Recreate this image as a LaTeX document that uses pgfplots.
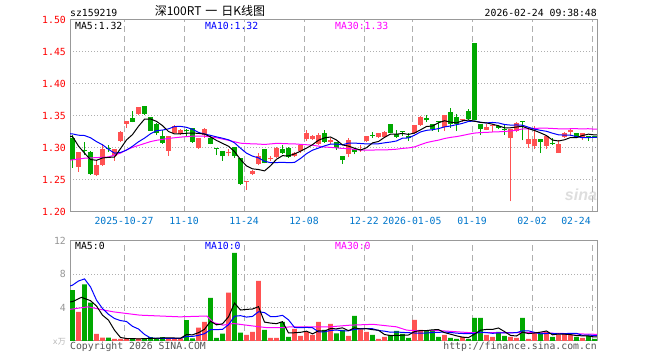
\documentclass[border=0pt]{standalone}
\usepackage{fontspec}
\usepackage{pgfplots}
\usepackage{pgfplotstable}
\pgfplotsset{compat=1.18}
\newfontfamily\mono{DejaVu Sans Mono}
\newfontfamily\cjk{Noto Sans CJK SC}
\newfontfamily\sinafont{Liberation Sans}
\definecolor{upred}{RGB}{255,82,82}
\definecolor{dngreen}{RGB}{0,168,0}
\definecolor{maten}{RGB}{0,0,255}
\definecolor{mathirty}{RGB}{255,0,255}
\definecolor{bord}{RGB}{153,153,153}
\definecolor{gridc}{RGB}{175,175,175}
\definecolor{tickblue}{RGB}{0,119,204}
\definecolor{volgray}{RGB}{150,150,150}
\definecolor{copyc}{RGB}{85,85,85}
\definecolor{wmark}{RGB}{222,222,222}
\newcommand{\mf}{\fontsize{9.8bp}{10bp}\selectfont\mono}

\pgfplotstableread{
i o h l c v
1 1.271 1.294 1.263 1.294 3.5
4 1.258 1.282 1.256 1.274 0.84
5 1.273 1.306 1.272 1.299 0.4
7 1.287 1.299 1.280 1.298 0.24
8 1.311 1.327 1.310 1.325 0.24
9 1.338 1.342 1.332 1.342 0.24
11 1.353 1.364 1.351 1.364 0.3
16 1.296 1.318 1.288 1.318 0.3
17 1.323 1.3355 1.323 1.334 0.3
18 1.322 1.329 1.321 1.328 0.3
21 1.300 1.315 1.299 1.315 1.6
22 1.320 1.331 1.316 1.329 2.28
26 1.2915 1.298 1.287 1.293 5.8
29 1.247 1.249 1.235 1.249 0.72
30 1.259 1.266 1.258 1.264 1.1
31 1.275 1.292 1.273 1.288 7.22
33 1.2825 1.288 1.279 1.284 0.38
34 1.2855 1.301 1.284 1.300 0.38
37 1.2875 1.294 1.2855 1.292 1.44
38 1.2955 1.306 1.292 1.305 0.6
39 1.3135 1.328 1.3115 1.324 1.08
40 1.314 1.320 1.313 1.319 0.72
41 1.306 1.323 1.305 1.321 2.28
43 1.310 1.315 1.307 1.312 2.04
46 1.2905 1.315 1.2855 1.312 0.6
48 1.2965 1.3045 1.2945 1.298 1.4
49 1.3115 1.318 1.309 1.318 1.08
51 1.3165 1.324 1.316 1.323 0.24
52 1.3175 1.3265 1.316 1.325 0.48
57 1.324 1.336 1.3225 1.336 2.52
58 1.336 1.350 1.3345 1.349 1.32
62 1.333 1.3515 1.3265 1.3515 0.72
65 1.3435 1.346 1.3405 1.346 0.48
69 1.3285 1.338 1.3275 1.333 0.72
70 1.3345 1.338 1.3255 1.336 0.48
73 1.3155 1.329 1.2165 1.329 0.48
74 1.326 1.340 1.3245 1.339 0.36
76 1.306 1.331 1.300 1.314 0.24
77 1.3025 1.335 1.2985 1.314 0.96
79 1.3035 1.318 1.2985 1.318 1.08
81 1.292 1.313 1.292 1.307 0.72
82 1.317 1.3245 1.3155 1.323 0.84
83 1.3245 1.3315 1.318 1.328 0.72
85 1.3155 1.3235 1.313 1.323 0.36
}\upT

\pgfplotstableread{
i o h l c v
0 1.315 1.320 1.269 1.281 6.1
2 1.2975 1.309 1.289 1.296 6.8
3 1.293 1.295 1.258 1.259 4.6
6 1.3005 1.305 1.294 1.299 0.4
10 1.347 1.358 1.340 1.341 0.3
12 1.366 1.366 1.352 1.353 0.3
13 1.348 1.349 1.327 1.327 0.45
14 1.338 1.339 1.320 1.323 0.3
15 1.319 1.328 1.307 1.308 0.45
19 1.3285 1.329 1.318 1.327 2.5
20 1.331 1.332 1.308 1.310 0.3
23 1.315 1.320 1.3055 1.306 5.16
24 1.3005 1.3005 1.289 1.299 0.36
25 1.295 1.296 1.280 1.287 0.88
27 1.301 1.302 1.285 1.287 10.56
28 1.284 1.284 1.242 1.244 1.0
32 1.298 1.299 1.276 1.276 1.32
35 1.298 1.304 1.291 1.292 2.28
36 1.2995 1.301 1.284 1.286 0.48
42 1.323 1.328 1.308 1.310 1.32
44 1.309 1.310 1.297 1.300 0.92
45 1.2875 1.2875 1.275 1.281 1.32
47 1.298 1.2995 1.290 1.293 3.0
50 1.3205 1.3245 1.316 1.319 0.72
53 1.337 1.338 1.323 1.324 0.72
54 1.3225 1.328 1.316 1.317 1.2
55 1.3265 1.3265 1.319 1.325 0.84
56 1.319 1.324 1.311 1.315 0.36
59 1.3475 1.352 1.3405 1.343 1.2
60 1.338 1.338 1.3265 1.329 1.32
61 1.342 1.342 1.3255 1.340 0.48
63 1.357 1.362 1.332 1.338 0.36
64 1.349 1.3535 1.3265 1.337 0.24
66 1.358 1.3605 1.343 1.345 0.24
67 1.4645 1.4645 1.343 1.343 2.76
68 1.338 1.338 1.320 1.329 2.76
71 1.3345 1.336 1.329 1.332 1.08
72 1.330 1.3365 1.321 1.328 0.6
75 1.3425 1.3425 1.312 1.341 2.76
78 1.314 1.314 1.292 1.310 0.96
80 1.308 1.3155 1.305 1.306 0.48
84 1.3235 1.3235 1.3155 1.317 0.48
86 1.3185 1.319 1.3115 1.317 0.6
87 1.3185 1.319 1.316 1.317 0.24
}\downT

\pgfplotstableread{
i m
-0.4 1.3181
0 1.318
1 1.303
2 1.292
3 1.282
4 1.2808
5 1.2844
6 1.2854
7 1.2858
8 1.299
9 1.3126
10 1.321
11 1.334
12 1.345
13 1.3454
14 1.3416
15 1.335
16 1.3258
17 1.322
18 1.3222
19 1.323
20 1.3234
21 1.3228
22 1.3218
23 1.3174
24 1.3118
25 1.3072
26 1.3028
27 1.2944
28 1.282
29 1.272
30 1.2674
31 1.2664
32 1.2642
33 1.2722
34 1.2824
35 1.288
36 1.2876
37 1.2908
38 1.295
39 1.2998
40 1.3052
41 1.3122
42 1.3158
43 1.3172
44 1.3124
45 1.3048
46 1.303
47 1.2996
48 1.2968
49 1.3004
50 1.308
51 1.3102
52 1.3166
53 1.3218
54 1.3216
55 1.3228
56 1.3212
57 1.3234
58 1.3284
59 1.3336
60 1.3344
61 1.3394
62 1.3426
63 1.3404
64 1.3392
65 1.3426
66 1.3436
67 1.3418
68 1.340
69 1.3392
70 1.3372
71 1.3346
72 1.3316
73 1.3316
74 1.3328
75 1.3338
76 1.3302
77 1.3274
78 1.3236
79 1.3194
80 1.3124
81 1.311
82 1.3128
83 1.3164
84 1.3162
85 1.3196
86 1.3216
87 1.3204
87.4 1.3204
}\maFive

\pgfplotstableread{
i m
-0.4 1.3223
0 1.322
1 1.320
2 1.3195
3 1.316
4 1.310
5 1.305
6 1.298
7 1.292
8 1.293
9 1.2967
10 1.3027
11 1.3097
12 1.3154
13 1.3222
14 1.3271
15 1.328
16 1.3299
17 1.3335
18 1.3338
19 1.3323
20 1.3292
21 1.3243
22 1.3219
23 1.3198
24 1.3174
25 1.3153
26 1.3128
27 1.3081
28 1.2997
29 1.2919
30 1.2873
31 1.2846
32 1.2793
33 1.2771
34 1.2772
35 1.2777
36 1.277
37 1.2775
38 1.2836
39 1.2911
40 1.2966
41 1.2999
42 1.3033
43 1.3061
44 1.3061
45 1.305
46 1.3076
47 1.3077
48 1.307
49 1.3064
50 1.3064
51 1.3066
52 1.3081
53 1.3093
54 1.311
55 1.3154
56 1.3157
57 1.32
58 1.3251
59 1.3276
60 1.3286
61 1.3303
62 1.333
63 1.3344
64 1.3364
65 1.3385
66 1.3415
67 1.3422
68 1.3402
69 1.3392
70 1.3399
71 1.3391
72 1.3367
73 1.3358
74 1.336
75 1.3355
76 1.3324
77 1.3295
78 1.3276
79 1.3261
80 1.3231
81 1.3206
82 1.3201
83 1.32
84 1.3178
85 1.316
86 1.3163
87 1.3166
87.4 1.3166
}\maTen

\pgfplotstableread{
i m
-0.4 1.281
2 1.284
4 1.285
6 1.286
8 1.292
9 1.297
10 1.301
11 1.304
12 1.307
13 1.310
14 1.312
16 1.315
18 1.317
20 1.3185
22 1.3185
24 1.316
26 1.312
28 1.3075
29 1.307
30 1.3064
31 1.3062
32 1.3055
33 1.3064
34 1.3072
35 1.307
36 1.3066
37 1.3064
38 1.3057
39 1.3051
40 1.3044
41 1.3029
42 1.3015
43 1.301
44 1.3002
45 1.2993
46 1.2991
47 1.2978
48 1.2968
49 1.2965
50 1.2968
51 1.297
52 1.2969
53 1.2975
54 1.2981
55 1.2994
56 1.3001
57 1.3017
58 1.3052
59 1.3084
60 1.3105
61 1.3123
62 1.3148
63 1.3166
64 1.3178
65 1.3196
66 1.3216
67 1.3233
68 1.3241
69 1.3244
70 1.325
71 1.3253
72 1.3259
73 1.3265
74 1.3278
75 1.3298
76 1.3299
77 1.3306
78 1.331
79 1.331
80 1.3305
81 1.330
82 1.3299
83 1.3301
84 1.3301
85 1.330
86 1.3301
87 1.3294
87.4 1.3294
}\maThirty

\pgfplotstableread{
i m
-0.4 4.7
0 4.72
1.5 5.24
3 4.84
4 4.2
5 3.1
6 2.5
7 1.3
8 0.42
9 0.30
10 0.28
11 0.26
12 0.28
13 0.32
14 0.33
15 0.36
16 0.36
17 0.36
18 0.33
19 0.77
20 0.74
21 1.0
22 1.40
23 2.37
24 1.94
25 2.06
26 2.90
27 4.55
28 3.72
29 3.79
30 3.84
31 4.12
32 2.27
33 2.15
34 2.08
35 2.32
36 0.97
37 0.99
38 1.04
39 1.18
40 0.86
41 1.22
42 1.2
43 1.49
44 1.46
45 1.58
46 1.24
47 1.58
48 1.45
49 1.48
50 1.36
51 1.29
52 0.78
53 0.65
54 0.67
55 0.70
56 0.72
57 1.13
58 1.25
59 1.25
60 1.34
61 1.37
62 1.01
63 0.82
64 0.62
65 0.46
66 0.41
67 0.82
68 1.30
69 1.39
70 1.39
71 1.56
72 1.13
73 0.67
74 0.60
75 1.06
76 0.89
77 0.96
78 1.06
79 1.2
80 0.74
81 0.84
82 0.82
83 0.77
84 0.65
85 0.62
86 0.60
87 0.48
87.4 0.48
}\vmaFive

\pgfplotstableread{
i m
-0.4 6.6
0 6.7
1 7.2
2 7.45
3 6.5
4 4.9
5 3.9
6 3.2
7 2.7
8 2.45
9 2.34
10 1.76
11 1.44
12 0.79
13 0.37
14 0.32
15 0.32
16 0.31
17 0.32
18 0.32
19 0.55
20 0.55
21 0.68
22 0.88
23 1.35
24 1.36
25 1.40
26 1.95
27 2.97
28 3.04
29 2.87
30 2.95
31 3.51
32 3.41
33 2.93
34 2.94
35 3.08
36 2.54
37 1.63
38 1.59
39 1.63
40 1.59
41 1.10
42 1.10
43 1.26
44 1.32
45 1.22
46 1.23
47 1.39
48 1.47
49 1.47
50 1.47
51 1.26
52 1.18
53 1.05
54 1.08
55 1.03
56 1.0
57 0.96
58 0.95
59 0.96
60 1.02
61 1.04
62 1.07
63 1.03
64 0.94
65 0.90
66 0.89
67 0.91
68 1.06
69 1.01
70 0.92
71 0.98
72 0.97
73 0.98
74 1.0
75 1.22
76 1.22
77 1.04
78 0.86
79 0.9
80 0.9
81 0.86
82 0.89
83 0.91
84 0.92
85 0.68
86 0.72
87 0.65
87.4 0.65
}\vmaTen

\pgfplotstableread{
i m
-0.4 3.8
2.6 4.1
4.6 3.8
6.8 3.5
11.25 3.1
17.9 2.9
22.4 3.0
23.5 2.2
25.1 1.9
26.8 2.1
30.1 1.8
32.4 1.6
35.1 1.6
36.25 1.7
42.9 1.7
46.25 1.9
50.1 2.0
54 1.7
55.7 1.3
57.4 1.24
61.25 1.24
66.25 1.0
76.25 1.0
87.4 0.8
}\vmaThirty

\pgfplotsset{
  klinebase/.style={
    scale only axis, width=527bp,
    xmin=-0.41667, xmax=87.41667,
    axis line style={draw=bord, line width=1bp},
    major tick length=0pt,
    xtick={8.58333,18.58333,28.58333,38.58333,48.58333,56.58333,66.58333,76.58333,86.58333},
    xmajorgrids, ymajorgrids,
    x grid style={draw=gridc, line width=1bp, dash pattern=on 6bp off 4bp},
    y grid style={draw=gridc, line width=1bp, dash pattern=on 1bp off 2bp},
    yticklabel style={font=\mf, anchor=east, inner sep=0pt, xshift=-4bp},
    xticklabel style={font=\mf, text=tickblue, anchor=north, inner sep=0pt, yshift=-5bp},
  },
  wick/.style={draw=none, mark=none, error bars/.cd, y dir=plus, y explicit, error mark=none,
    error bar style={draw=#1, solid, line width=1bp}},
  body/.style={draw=none, mark=none, error bars/.cd, y dir=plus, y explicit, error mark=none,
    error bar style={draw=#1, solid, line width=4.6bp}},
}

\begin{document}
\begin{tikzpicture}
\useasboundingbox (0,0) rectangle (660bp,360bp);
\fill[white] (0,0) rectangle (660bp,360bp);
\node[anchor=center, inner sep=0pt, text=wmark] at (581bp,165bp) {\fontsize{16bp}{16bp}\selectfont\sinafont\bfseries\itshape sina};

% price panel
\begin{axis}[klinebase,
  at={(70bp,148bp)}, anchor=south west, height=192bp,
  ymin=1.20, ymax=1.50,
  ytick={1.20,1.25,1.30,1.35,1.40,1.45,1.50},
  yticklabels={1.20,1.25,1.30,1.35,1.40,1.45,1.50},
  yticklabel style={text=red},
  xticklabels={2025-10-27,11-10,11-24,12-08,12-22,2026-01-05,01-19,02-02,{}},
]
\addplot[wick=upred] table[x=i, y=l, y error expr=\thisrow{h}-\thisrow{l}] {\upT};
\addplot[wick=dngreen] table[x=i, y=l, y error expr=\thisrow{h}-\thisrow{l}] {\downT};
\addplot[body=upred] table[x=i, y=o, y error expr=\thisrow{c}-\thisrow{o}] {\upT};
\addplot[body=dngreen] table[x=i, y=c, y error expr=\thisrow{o}-\thisrow{c}] {\downT};
\addplot[mathirty, line width=1bp, mark=none] table[x=i, y=m] {\maThirty};
\addplot[maten, line width=1bp, mark=none] table[x=i, y=m] {\maTen};
\addplot[black, line width=1bp, mark=none] table[x=i, y=m] {\maFive};
\end{axis}

% volume panel
\begin{axis}[klinebase,
  at={(70bp,19bp)}, anchor=south west, height=100bp,
  ymin=0, ymax=12,
  ytick={4,8,12}, yticklabels={4,8,12},
  yticklabel style={text=volgray},
  xticklabels={},
]
\addplot[ybar, bar width=4.6bp, bar shift=0pt, fill=upred, draw=none] table[x=i, y=v] {\upT};
\addplot[ybar, bar width=4.6bp, bar shift=0pt, fill=dngreen, draw=none] table[x=i, y=v] {\downT};
\addplot[mathirty, line width=1bp, mark=none] table[x=i, y=m] {\vmaThirty};
\addplot[maten, line width=1bp, mark=none] table[x=i, y=m] {\vmaTen};
\addplot[black, line width=1bp, mark=none] table[x=i, y=m] {\vmaFive};
\end{axis}

% texts
\node[anchor=north, inner sep=0pt, text=tickblue] at (576bp,143bp) {\mf 02-24};
\node[anchor=base west, inner sep=0pt] at (70bp,343.3bp) {\mf sz159219};
\node[anchor=base, inner sep=0pt] at (210bp,344.2bp) {\fontsize{12bp}{12bp}\selectfont\cjk 深100RT\hspace{4bp}一\hspace{4bp}日K线图};
\node[anchor=base east, inner sep=0pt] at (597bp,343.3bp) {\mf 2026-02-24 09:38:48};
\node[anchor=base west, inner sep=0pt] at (75bp,330.7bp) {\mf MA5:1.32};
\node[anchor=base west, inner sep=0pt, text=maten] at (205bp,330.7bp) {\mf MA10:1.32};
\node[anchor=base west, inner sep=0pt, text=mathirty] at (335bp,330.7bp) {\mf MA30:1.33};
\node[anchor=base west, inner sep=0pt] at (75bp,110.7bp) {\mf MA5:0};
\node[anchor=base west, inner sep=0pt, text=maten] at (205bp,110.7bp) {\mf MA10:0};
\node[anchor=base west, inner sep=0pt, text=mathirty] at (335bp,110.7bp) {\mf MA30:0};
\node[anchor=base west, inner sep=0pt, text=copyc] at (70bp,10.9bp) {\mf Copyright 2026 SINA.COM};
\node[anchor=base east, inner sep=0pt, text=copyc] at (597bp,10.9bp) {\mf http://finance.sina.com.cn};
\node[anchor=base east, inner sep=0pt, text=volgray!70] at (66bp,16bp) {\fontsize{8bp}{8bp}\selectfont\mono x\cjk 万};
\end{tikzpicture}
\end{document}
